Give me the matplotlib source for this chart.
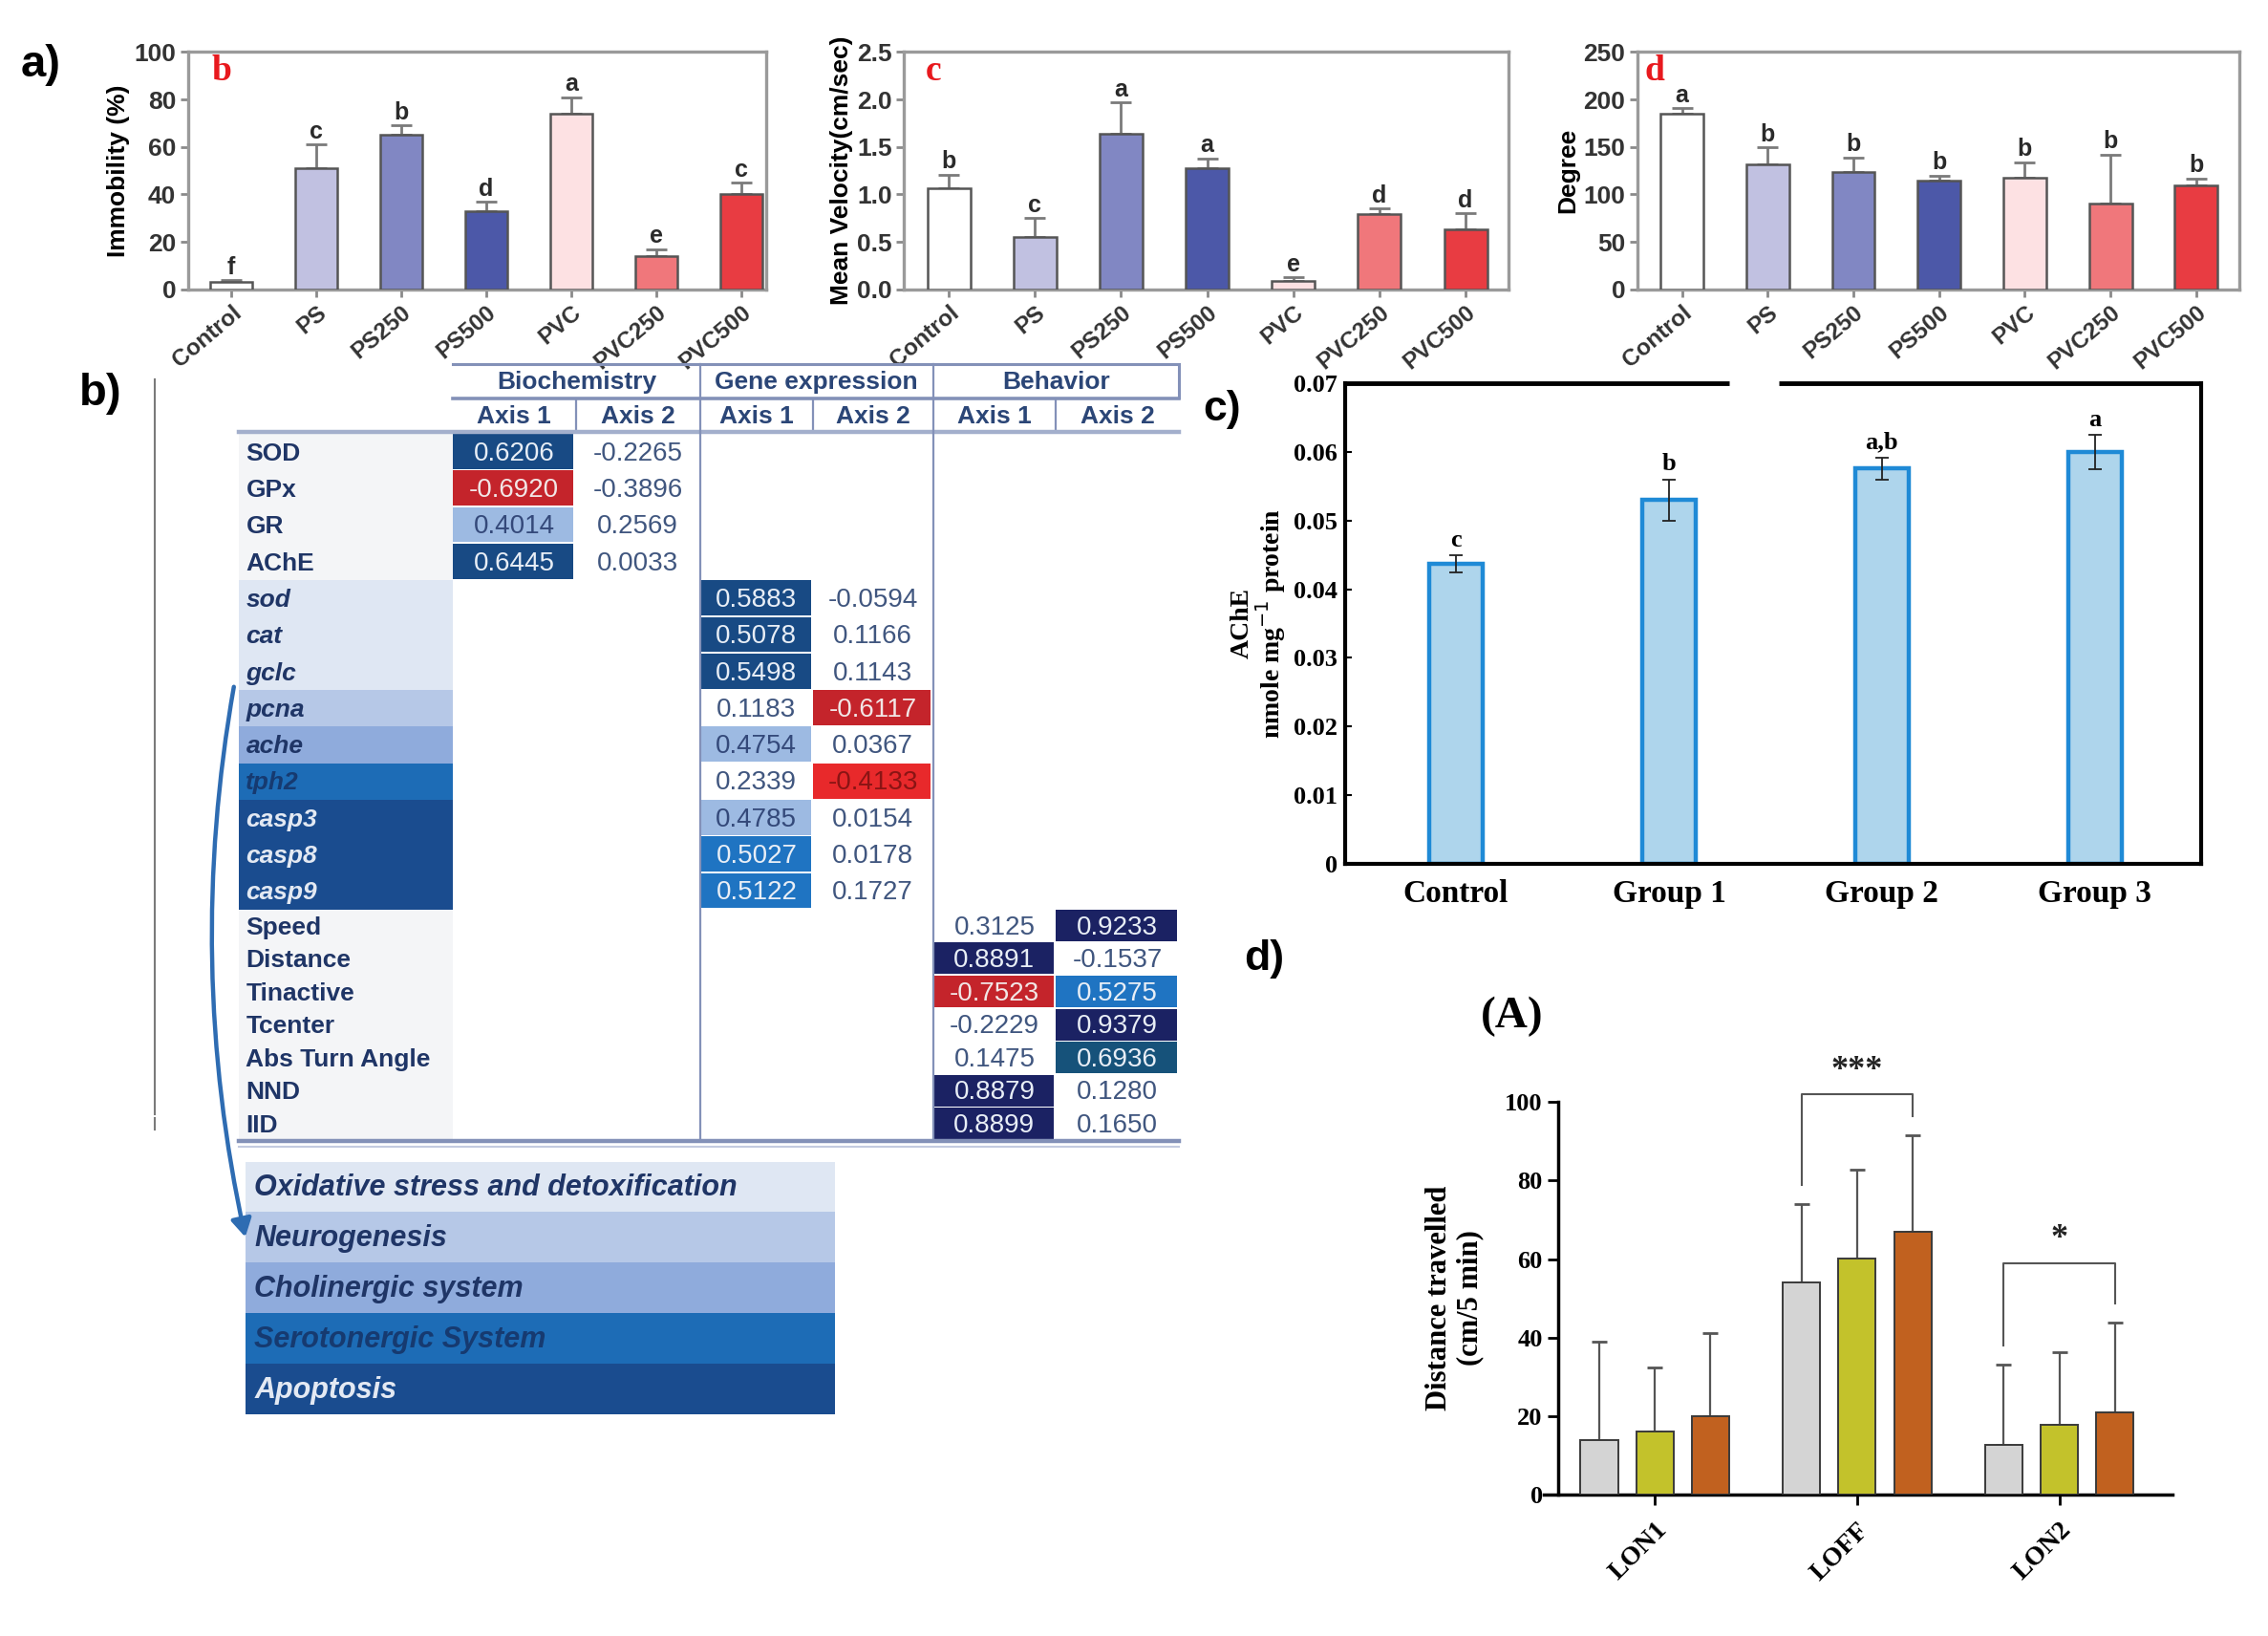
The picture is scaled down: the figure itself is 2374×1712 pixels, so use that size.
import matplotlib
matplotlib.use('Agg')
import matplotlib.pyplot as plt
from matplotlib.patches import Rectangle, FancyArrowPatch
import numpy as np

# layout grid = pixels of the reference preview
W, H = 1568, 1131


def box(x0, y0, x1, y1):
    return [x0 / W, 1 - y1 / H, (x1 - x0) / W, (y1 - y0) / H]


# ---------------- data ----------------
treat = ['Control', 'PS', 'PS250', 'PS500', 'PVC', 'PVC250', 'PVC500']
immob = [3, 51, 65, 33, 74, 14, 40]
immob_err = [1, 10, 4, 4, 7, 3, 5]
immob_let = ['f', 'c', 'b', 'd', 'a', 'e', 'c']
veloc = [1.06, 0.55, 1.64, 1.28, 0.09, 0.79, 0.63]
veloc_err = [0.15, 0.20, 0.33, 0.10, 0.04, 0.06, 0.17]
veloc_let = ['b', 'c', 'a', 'a', 'e', 'd', 'd']
degree = [185, 132, 124, 115, 118, 90, 110]
degree_err = [6, 18, 15, 5, 16, 52, 7]
degree_let = ['a', 'b', 'b', 'b', 'b', 'b', 'b']

groups = ['Control', 'Group 1', 'Group 2', 'Group 3']
ache = [0.0437, 0.0530, 0.0576, 0.0600]
ache_err = [0.0012, 0.0030, 0.0016, 0.0025]
ache_let = ['c', 'b', 'a,b', 'a']

phases = ['LON1', 'LOFF', 'LON2']
dist_g1 = [13.9, 54.1, 12.7]
dist_g1_err = [24.9, 19.9, 20.3]
dist_g2 = [15.9, 60.2, 17.7]
dist_g2_err = [16.4, 22.6, 18.5]
dist_g3 = [19.8, 67.0, 21.0]
dist_g3_err = [21.2, 24.5, 22.7]
sig_phase = ['LOFF', 'LON2']
sig_mark = ['***', '*']
sig_top = [102, 59]

row_labels = ['SOD', 'GPx', 'GR', 'AChE', 'sod', 'cat', 'gclc', 'pcna', 'ache',
              'tph2', 'casp3', 'casp8', 'casp9', 'Speed', 'Distance', 'Tinactive',
              'Tcenter', 'Abs Turn Angle', 'NND', 'IID']
bio_axis1 = [0.6206, -0.6920, 0.4014, 0.6445]
bio_axis2 = [-0.2265, -0.3896, 0.2569, 0.0033]
gene_axis1 = [0.5883, 0.5078, 0.5498, 0.1183, 0.4754, 0.2339, 0.4785, 0.5027, 0.5122]
gene_axis2 = [-0.0594, 0.1166, 0.1143, -0.6117, 0.0367, -0.4133, 0.0154, 0.0178, 0.1727]
beh_axis1 = [0.3125, 0.8891, -0.7523, -0.2229, 0.1475, 0.8879, 0.8899]
beh_axis2 = [0.9233, -0.1537, 0.5275, 0.9379, 0.6936, 0.1280, 0.1650]
categories = ['Oxidative stress and detoxification', 'Neurogenesis',
              'Cholinergic system', 'Serotonergic System', 'Apoptosis']

# ---------------- styles ----------------
treat_colors = ['#ffffff', '#c1c1e1', '#8187c3', '#4c58a8', '#fde1e3', '#f0777b', '#e83c42']
shade = {'w': ('#ffffff', '#40567f'), 'L': ('#9dbae2', '#34497a'),
         'M': ('#1f74c2', '#e8eef6'), 'D': ('#184a84', '#e8eef6'),
         'N': ('#1b2263', '#e8eef6'), 'T': ('#16527a', '#e8eef6'),
         'R': ('#c4242b', '#f2e6e6'), 'B': ('#e8292b', '#8a1414')}
bio1_sh = ['D', 'R', 'L', 'D']
gene1_sh = ['D', 'D', 'D', 'w', 'L', 'w', 'L', 'M', 'M']
gene2_sh = ['w', 'w', 'w', 'R', 'w', 'B', 'w', 'w', 'w']
beh1_sh = ['w', 'N', 'R', 'w', 'w', 'N', 'N']
beh2_sh = ['N', 'w', 'M', 'N', 'T', 'w', 'w']
label_bg = ['#f4f5f7'] * 4 + ['#dfe7f3'] * 3 + ['#b6c8e7', '#8fabdc', '#1d6cb6'] + \
           ['#1a4c8f'] * 3 + ['#f4f5f7'] * 7
label_fg = ['#1f3566'] * 9 + ['#163a70'] + ['#e3e9f3'] * 3 + ['#1f3566'] * 7
cat_bg = ['#dfe7f3', '#b6c8e7', '#8fabdc', '#1d6cb6', '#1a4c8f']
cat_fg = ['#1f3566', '#1f3566', '#1f3566', '#163a70', '#e3e9f3']

SANS = ['Liberation Sans', 'DejaVu Sans']
SERIF = ['Liberation Serif', 'DejaVu Serif']

fig = plt.figure(figsize=(23.74, 17.12), dpi=100)


# ---------------- panel a ----------------
def bar_panel(rect, vals, errs, lets, ymax, ystep, ylabel, tag, tag_x, xlim, fmt):
    ax = fig.add_axes(rect)
    x = np.arange(len(treat))
    ax.bar(x, vals, 0.5, color=treat_colors, edgecolor='#555555', linewidth=1.8, zorder=3)
    ax.errorbar(x, vals, yerr=[np.zeros(len(vals)), errs], fmt='none', ecolor='#7a7a7a',
                elinewidth=2, capsize=8, capthick=2, zorder=2)
    for xi, v, e, l in zip(x, vals, errs, lets):
        ax.text(xi, v + e + ymax * 0.005, l, ha='center', va='bottom', fontsize=18,
                fontweight='bold', family=SANS, color='#2a2a2a')
    ax.set_xlim(*xlim)
    ax.set_ylim(0, ymax)
    ax.set_yticks(np.arange(0, ymax + ystep / 2, ystep))
    ax.set_yticklabels([fmt.format(t) for t in np.arange(0, ymax + ystep / 2, ystep)])
    ax.set_xticks(x)
    ax.set_xticklabels(treat, rotation=40, ha='right', rotation_mode='anchor')
    for lab in ax.get_yticklabels():
        lab.set_fontweight('bold')
        lab.set_family(SANS)
        lab.set_fontsize(19)
        lab.set_color('#333333')
    for lab in ax.get_xticklabels():
        lab.set_fontweight('bold')
        lab.set_family(SANS)
        lab.set_fontsize(17.5)
        lab.set_color('#333333')
    ax.tick_params(axis='both', color='#8a8a8a', width=2, length=6, pad=3)
    for s in ax.spines.values():
        s.set_color('#9a9a9a')
        s.set_linewidth(2.4)
    ax.set_ylabel(ylabel, fontsize=19, fontweight='bold', family=SANS, labelpad=3)
    ax.text(tag_x, 0.99, tag, transform=ax.transAxes, ha='left', va='top', color='#e8191e',
            fontsize=27, fontweight='bold', family=SERIF)
    return ax


bar_panel(box(130, 36, 530, 200), immob, immob_err, immob_let, 100, 20,
          'Immobility (%)', 'b', 0.04, (-0.51, 6.3), '{:.0f}')
bar_panel(box(625, 36, 1043, 200), veloc, veloc_err, veloc_let, 2.5, 0.5,
          'Mean Velocity(cm/sec)', 'c', 0.035, (-0.52, 6.5), '{:.1f}')
bar_panel(box(1132, 36, 1548, 200), degree, degree_err, degree_let, 250, 50,
          'Degree', 'd', 0.012, (-0.52, 6.5), '{:.0f}')

# ---------------- panel b (table) ----------------
tab = fig.add_axes(box(60, 245, 830, 990))
tab.set_xlim(60, 830)
tab.set_ylim(990, 245)
tab.axis('off')

col_x = [313, 398, 484, 562, 645, 730, 815]
h1, h2, y0 = 25.3, 22.8, 300
row_y = [y0 + i * h1 for i in range(13)] + [y0 + 13 * h1 + j * h2 for j in range(7)]
row_h = [h1] * 13 + [h2] * 7
line_c = '#8391b8'

for i, lab in enumerate(row_labels):
    tab.add_patch(Rectangle((165, row_y[i]), 148, row_h[i], color=label_bg[i], lw=0))
    tab.text(170, row_y[i] + row_h[i] / 2 + 1, lab, ha='left', va='center', fontsize=19,
             fontweight='bold', style='italic' if 4 <= i <= 12 else 'normal',
             color=label_fg[i], family=SANS)


def fill_col(vals, shades, col, first_row):
    for k, v in enumerate(vals):
        r = first_row + k
        bg, fg = shade[shades[k]]
        x0 = col_x[col]
        w = col_x[col + 1] - x0
        tab.add_patch(Rectangle((x0, row_y[r]), w - 1.5, row_h[r] - 1, color=bg, lw=0))
        tab.text(x0 + w / 2, row_y[r] + row_h[r] / 2 + 1, '{:.4f}'.format(v), ha='center',
                 va='center', fontsize=20, color=fg, family=SANS)


fill_col(bio_axis1, bio1_sh, 0, 0)
fill_col(bio_axis2, ['w'] * 4, 1, 0)
fill_col(gene_axis1, gene1_sh, 2, 4)
fill_col(gene_axis2, gene2_sh, 3, 4)
fill_col(beh_axis1, beh1_sh, 4, 13)
fill_col(beh_axis2, beh2_sh, 5, 13)

for g, name in enumerate(['Biochemistry', 'Gene expression', 'Behavior']):
    xa, xb = col_x[2 * g], col_x[2 * g + 2]
    tab.text((xa + xb) / 2, 264, name, ha='center', va='center', fontsize=19,
             fontweight='bold', color='#2b4677', family=SANS)
    for a in range(2):
        xc = (col_x[2 * g + a] + col_x[2 * g + a + 1]) / 2
        tab.text(xc, 288, 'Axis %d' % (a + 1), ha='center', va='center', fontsize=19,
                 fontweight='bold', color='#2b4677', family=SANS)
    tab.plot([col_x[2 * g + 1]] * 2, [277, 298], color=line_c, lw=1.6)

tab.plot([313, 815], [252, 252], color=line_c, lw=2.2)
tab.plot([313, 815], [275.5, 275.5], color=line_c, lw=2.6)
tab.plot([165, 815], [298.5, 298.5], color='#a3afcc', lw=3.2)
tab.plot([815, 815], [252, 275], color=line_c, lw=2.2)
for xv in (484, 645):
    tab.plot([xv, xv], [252, 789], color=line_c, lw=1.6)
tab.plot([165, 815], [789, 789], color=line_c, lw=3.2)
tab.plot([165, 815], [792.5, 792.5], color='#c3cbe0', lw=1.5)

for k, c in enumerate(categories):
    yk = 803 + 35 * k
    tab.add_patch(Rectangle((170, yk), 407, 35, color=cat_bg[k], lw=0))
    tab.text(176, yk + 18, c, ha='left', va='center', fontsize=22, fontweight='bold',
             style='italic', color=cat_fg[k], family=SANS)

tab.plot([107, 107], [262, 770], color='#7a7a7a', lw=1.5)
tab.plot([107, 107], [773, 781], color='#7a7a7a', lw=1.5)
tab.add_patch(FancyArrowPatch((162, 473), (170, 857), connectionstyle='arc3,rad=0.1',
                              arrowstyle='-|>,head_length=7,head_width=4',
                              color='#2e6cb2', lw=3.2, mutation_scale=1.6))

# ---------------- panel c ----------------
axc = fig.add_axes(box(930, 265, 1522, 597))
xc = np.arange(len(groups))
axc.bar(xc, ache, 0.25, color='#aed5ec', edgecolor='#1f8ad6', linewidth=3.2, zorder=2)
axc.errorbar(xc, ache, yerr=ache_err, fmt='none', ecolor='#222222', elinewidth=1.3,
             capsize=5, capthick=1.3, zorder=3)
for xi, v, e, l in zip(xc, ache, ache_err, ache_let):
    axc.text(xi, v + e + 0.0006, l, ha='center', va='bottom', fontsize=19,
             fontweight='bold', family=SERIF)
axc.set_xlim(-0.52, 3.5)
axc.set_ylim(0, 0.07)
axc.set_yticks(np.arange(0, 0.0701, 0.01))
axc.set_yticklabels(['0'] + ['{:.2f}'.format(t) for t in np.arange(0.01, 0.0701, 0.01)])
axc.set_xticks(xc)
axc.set_xticklabels(groups)
for lab in axc.get_yticklabels():
    lab.set_fontsize(19)
    lab.set_fontweight('bold')
    lab.set_family(SERIF)
for lab in axc.get_xticklabels():
    lab.set_fontsize(24)
    lab.set_fontweight('bold')
    lab.set_family(SERIF)
axc.tick_params(axis='x', length=0, pad=12)
axc.tick_params(axis='y', length=5, width=1.5, direction='in', pad=6)
axc.spines['top'].set_visible(False)
for s in ('left', 'right', 'bottom'):
    axc.spines[s].set_linewidth(3)
axc.plot([0, 0.448], [1, 1], transform=axc.transAxes, color='black', lw=3.5, clip_on=False,
         solid_capstyle='butt')
axc.plot([0.507, 1], [1, 1], transform=axc.transAxes, color='black', lw=3.5, clip_on=False,
         solid_capstyle='butt')
axc.set_ylabel('AChE\nnmole mg$^{-1}$ protein', fontsize=20, fontweight='bold',
               family=SERIF, labelpad=4, linespacing=1.0)

# ---------------- panel d ----------------
axd = fig.add_axes(box(1077, 762, 1502, 1033))
xd = np.arange(len(phases))
off = 0.275
bw = 0.185
series = [(dist_g1, dist_g1_err, '#d4d4d4'), (dist_g2, dist_g2_err, '#c3c22b'),
          (dist_g3, dist_g3_err, '#c1611f')]
for k, (v, e, col) in enumerate(series):
    pos = xd + (k - 1) * off
    axd.bar(pos, v, bw, color=col, edgecolor='#3a3a3a', linewidth=1.4, zorder=3)
    axd.errorbar(pos, v, yerr=[np.zeros(len(v)), e], fmt='none', ecolor='#555555',
                 elinewidth=1.6, capsize=6, capthick=2, zorder=2)
for ph, mark, top in zip(sig_phase, sig_mark, sig_top):
    i = phases.index(ph)
    xl, xr = xd[i] - off, xd[i] + off
    yl = series[0][0][i] + series[0][1][i] + 5
    yr = series[2][0][i] + series[2][1][i] + 5
    axd.plot([xl, xl, xr, xr], [yl, top, top, yr], color='#555555', lw=1.5, clip_on=False)
    axd.text(xd[i], top + 2, mark, ha='center', va='bottom', fontsize=26, fontweight='bold',
             family=SERIF, color='#222222')
axd.set_xlim(-0.48, 2.56)
axd.set_ylim(0, 100)
axd.set_yticks(np.arange(0, 101, 20))
axd.set_xticks(xd)
axd.set_xticklabels(phases, rotation=45, ha='right', rotation_mode='anchor')
for lab in axd.get_yticklabels():
    lab.set_fontsize(19)
    lab.set_fontweight('bold')
    lab.set_family(SERIF)
for lab in axd.get_xticklabels():
    lab.set_fontsize(20)
    lab.set_fontweight('bold')
    lab.set_family(SERIF)
axd.tick_params(axis='both', length=8, width=2)
axd.tick_params(axis='x', pad=10)
axd.spines['top'].set_visible(False)
axd.spines['right'].set_visible(False)
axd.spines['left'].set_linewidth(2.5)
axd.spines['bottom'].set_linewidth(2.5)
axd.spines['bottom'].set_bounds(-0.55, 2.56)
axd.set_ylabel('Distance travelled\n(cm/5 min)', fontsize=22, fontweight='bold',
               family=SERIF, labelpad=16, linespacing=1.15)

# ---------------- panel labels ----------------
fig.text(14 / W, 1 - 45 / H, 'a)', fontsize=34, fontweight='bold', family=SANS, va='center')
fig.text(55 / W, 1 - 272 / H, 'b)', fontsize=34, fontweight='bold', family=SANS, va='center')
fig.text(832 / W, 1 - 283 / H, 'c)', fontsize=32, fontweight='bold', family=SANS, va='center')
fig.text(860 / W, 1 - 663 / H, 'd)', fontsize=32, fontweight='bold', family=SANS, va='center')
fig.text(1024 / W, 1 - 703 / H, '(A)', fontsize=34, fontweight='bold', family=SERIF,
         va='center')

fig.savefig('out.png', dpi=100, facecolor='white')
